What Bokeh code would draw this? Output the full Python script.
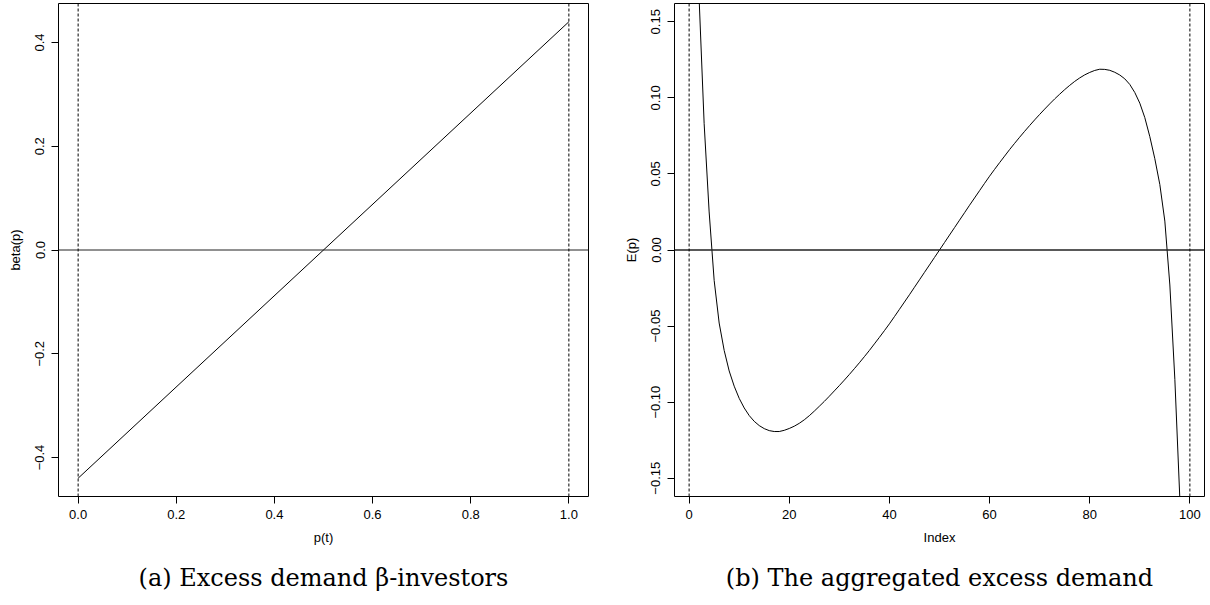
from bokeh.plotting import figure
from bokeh.models import Range1d, Span, Title, FixedTicker, CustomJSTickFormatter
from bokeh.layouts import row
from bokeh.embed import file_html
from bokeh.resources import INLINE

# ---------------- data: panel (a) ----------------
p_t = [0.0, 1.0]
beta_p = [-0.44, 0.44]
x_ticks_a = [0.0, 0.2, 0.4, 0.6, 0.8, 1.0]
y_ticks_a = [-0.4, -0.2, 0.0, 0.2, 0.4]
vlines_a = [0.0, 1.0]
caption_a = "(a) Excess demand \u03b2-investors"

# ---------------- data: panel (b) ----------------
index_b = list(range(1, 100))
E_p = [
    0.400, 0.165, 0.083, 0.025, -0.020, -0.048, -0.066, -0.0795, -0.0895, -0.0975,
    -0.1038, -0.1088, -0.1126, -0.1154, -0.1174, -0.1187, -0.1193, -0.1193, -0.1185, -0.1173,
    -0.1158, -0.1139, -0.1116, -0.1089, -0.1059, -0.1027, -0.0995, -0.0961, -0.0926, -0.0891,
    -0.0855, -0.0818, -0.0780, -0.0741, -0.0701, -0.0660, -0.0617, -0.0574, -0.0530, -0.0485,
    -0.0438, -0.0390, -0.0342, -0.0294, -0.0245, -0.0196, -0.0147, -0.0098, -0.0049, 0.0,
    0.0049, 0.0098, 0.0147, 0.0196, 0.0245, 0.0294, 0.0342, 0.0390, 0.0438, 0.0485,
    0.0530, 0.0574, 0.0617, 0.0660, 0.0701, 0.0741, 0.0780, 0.0818, 0.0855, 0.0891,
    0.0926, 0.0960, 0.0993, 0.1024, 0.1054, 0.1082, 0.1108, 0.1131, 0.1151, 0.1167,
    0.1180, 0.1188, 0.1187, 0.1181, 0.1168, 0.1150, 0.1125, 0.1088, 0.1035, 0.0965,
    0.0870, 0.0745, 0.0600, 0.0430, 0.0190, -0.0230, -0.0850, -0.1640, -0.4000,
]
x_ticks_b = [0, 20, 40, 60, 80, 100]
y_ticks_b = [-0.15, -0.10, -0.05, 0.0, 0.05, 0.10, 0.15]
vlines_b = [0, 100]
caption_b = "(b) The aggregated excess demand"

SANS = "Liberation Sans"
SERIF = "DejaVu Serif"


def fmt(digits):
    return CustomJSTickFormatter(
        code="return tick.toFixed(%d).replace('-', '\\u2212');" % digits)


def make_panel(xs, ys, xr, yr, xticks, yticks, xdig, ydig, xlabel, ylabel,
               vlines, caption, border_left, border_right, zero_width):
    p = figure(width=605, height=605, output_backend="svg", toolbar_location=None,
               x_range=Range1d(*xr), y_range=Range1d(*yr),
               min_border_left=border_left, min_border_right=border_right,
               min_border_top=3, min_border_bottom=108)
    p.background_fill_color = "white"
    p.border_fill_color = "white"
    p.outline_line_color = "black"
    p.outline_line_width = 1
    p.xgrid.visible = False
    p.ygrid.visible = False

    for ax, ticks, dig, lab in ((p.xaxis[0], xticks, xdig, xlabel),
                                (p.yaxis[0], yticks, ydig, ylabel)):
        ax.ticker = FixedTicker(ticks=ticks)
        ax.formatter = fmt(dig)
        ax.bounds = (ticks[0], ticks[-1])
        ax.axis_label = lab
        ax.axis_label_text_font = SANS
        ax.axis_label_text_font_style = "normal"
        ax.axis_label_text_font_size = "13px"
        ax.axis_label_text_color = "black"
        ax.major_label_text_font = SANS
        ax.major_label_text_font_size = "13px"
        ax.major_label_text_color = "black"
        ax.major_tick_in = 0
        ax.major_tick_out = 7
        ax.minor_tick_in = 0
        ax.minor_tick_out = 0
        ax.axis_line_color = "black"
        ax.major_tick_line_color = "black"
    p.xaxis[0].major_label_standoff = 6
    p.xaxis[0].axis_label_standoff = 8
    p.yaxis[0].major_label_standoff = 7
    p.yaxis[0].axis_label_standoff = 10
    p.yaxis[0].major_label_orientation = "vertical"

    p.line(xs, ys, line_color="black", line_width=1)

    p.add_layout(Span(location=0, dimension="width", line_color="#222222",
                      line_width=zero_width))
    for v in vlines:
        p.add_layout(Span(location=v, dimension="height", line_color="black",
                          line_width=1, line_dash="3 2"))

    p.add_layout(Title(text=caption, align="center", text_font=SERIF,
                       text_font_size="24px", text_font_style="normal",
                       text_color="black", standoff=28), "below")
    return p


p1 = make_panel(p_t, beta_p, (-0.04, 1.04), (-0.4752, 0.4752), x_ticks_a, y_ticks_a,
                1, 1, "p(t)", "beta(p)", vlines_a, caption_a, 58, 17, 1)
p2 = make_panel(index_b, E_p, (-2.92, 102.92), (-0.162, 0.162), x_ticks_b, y_ticks_b,
                0, 2, "Index", "E(p)", vlines_b, caption_b, 69, 6, 1.6)

layout = row(p1, p2)
open("out.html", "w").write(file_html(layout, INLINE))
